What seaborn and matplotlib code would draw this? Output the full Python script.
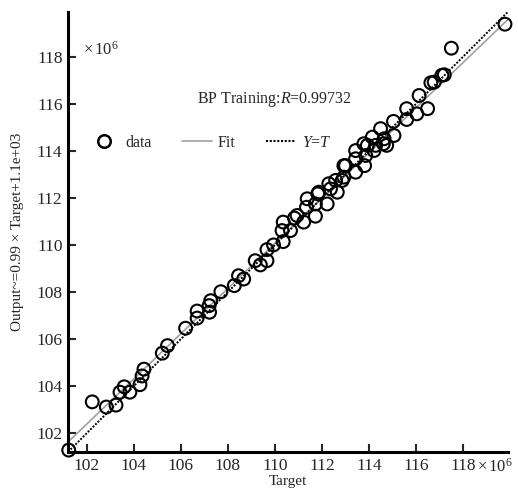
import numpy as np
import pandas as pd
import matplotlib
matplotlib.use("Agg")
import matplotlib.pyplot as plt
import seaborn as sns
from matplotlib.lines import Line2D

# 目标值与网络输出（单位 ×10^6）
target = [101.23, 102.23, 102.83, 103.24, 103.41, 103.59, 103.83, 104.26, 104.35, 104.43,
          105.21, 105.43, 106.20, 106.69, 106.69, 107.22, 107.20, 107.27, 107.70, 108.27,
          108.45, 108.67, 109.16, 109.38, 109.66, 109.66, 109.94, 110.35, 110.30, 110.35,
          110.66, 110.83, 110.94, 111.22, 111.34, 111.37, 111.72, 111.72, 111.82, 111.86,
          112.22, 112.29, 112.36, 112.58, 112.65, 112.86, 112.93, 112.93, 113.00, 113.43,
          113.43, 113.43, 113.81, 113.86, 113.78, 113.93, 114.21, 114.28, 114.14, 114.49,
          114.64, 114.61, 114.75, 115.06, 115.04, 115.60, 115.60, 116.03, 116.49, 116.13,
          116.63, 116.77, 117.10, 117.20, 117.50, 119.78]
output = [101.28, 103.33, 103.11, 103.19, 103.74, 103.97, 103.74, 104.06, 104.43, 104.72,
          105.40, 105.72, 106.46, 106.89, 107.19, 107.14, 107.42, 107.63, 108.01, 108.27,
          108.69, 108.55, 109.33, 109.15, 109.33, 109.80, 110.00, 110.14, 110.61, 110.97,
          110.61, 111.14, 111.25, 110.97, 111.60, 111.96, 111.22, 111.74, 112.17, 112.24,
          111.74, 112.60, 112.38, 112.74, 112.24, 112.74, 112.88, 113.37, 113.37, 113.09,
          113.66, 114.01, 113.37, 113.80, 114.30, 114.23, 114.01, 114.23, 114.58, 114.94,
          114.51, 114.30, 114.23, 114.65, 115.25, 115.33, 115.79, 115.57, 115.79, 116.35,
          116.89, 116.92, 117.21, 117.23, 118.36, 119.38]

# 图中拟合线
fit_slope = 0.96
fit_intercept = 4.47
r_value = 0.99732

x_ticks = [102, 104, 106, 108, 110, 112, 114, 116, 118]
y_ticks = [102, 104, 106, 108, 110, 112, 114, 116, 118]
lim = (101.2, 119.9)

sns.set_theme(style="ticks")
plt.rcParams['font.family'] = ['Liberation Serif', 'DejaVu Serif']
plt.rcParams['mathtext.fontset'] = 'custom'
plt.rcParams['mathtext.it'] = 'Liberation Serif:italic'
plt.rcParams['mathtext.rm'] = 'Liberation Serif'

df = pd.DataFrame({'Target': target, 'Output': output})

fig = plt.figure(figsize=(5.18, 4.90), dpi=100)
ax = fig.add_axes([0.1313, 0.0776, 0.849, 0.898])

line_x = np.array(lim)
ax.plot(line_x, fit_slope * line_x + fit_intercept, color='#a0a0a0', lw=1.2, zorder=1)
ax.plot(line_x, line_x, color='black', lw=1.4, ls=(0, (1, 0.8)), zorder=2)

sns.scatterplot(data=df, x='Target', y='Output', ax=ax, marker='o', s=85,
                facecolors='none', edgecolor='black', linewidth=1.5, zorder=3,
                clip_on=False)

ax.set_xlim(*lim)
ax.set_ylim(*lim)
ax.set_xticks(x_ticks)
ax.set_yticks(y_ticks)
ax.tick_params(direction='in', length=6, width=1.5, labelsize=12.5, pad=4)
for side in ['top', 'right']:
    ax.spines[side].set_visible(False)
for side in ['left', 'bottom']:
    ax.spines[side].set_linewidth(2.2)
    ax.spines[side].set_color('black')

ax.set_xlabel('Target', fontsize=11, labelpad=1)
ax.set_ylabel('Output~=0.99 × Target+1.1e+03', fontsize=11, labelpad=9)

ax.text(0.033, 0.914, r'$\times\,10^6$', transform=ax.transAxes, fontsize=12, va='center')
ax.text(0.93, -0.033, r'$\times\,10^6$', transform=ax.transAxes, fontsize=12,
        va='center', ha='left')
ax.text(0.47, 0.80, 'BP Training:$R$=' + f'{r_value:.5f}', transform=ax.transAxes,
        fontsize=11.5, ha='center', va='center')

handles = [
    Line2D([], [], ls='none', marker='o', markersize=9, markerfacecolor='none',
           markeredgecolor='black', markeredgewidth=1.8),
    Line2D([], [], color='#a0a0a0', lw=1.2),
    Line2D([], [], color='black', lw=1.5, ls=(0, (1, 0.8))),
]
ax.legend(handles, ['data', 'Fit', '$Y$=$T$'], ncol=3, frameon=False, fontsize=11.5,
          loc='center left', bbox_to_anchor=(0.015, 0.702), handlelength=1.9,
          columnspacing=1.9, handletextpad=0.35)

plt.savefig('out.png', dpi=100)
plt.close()
